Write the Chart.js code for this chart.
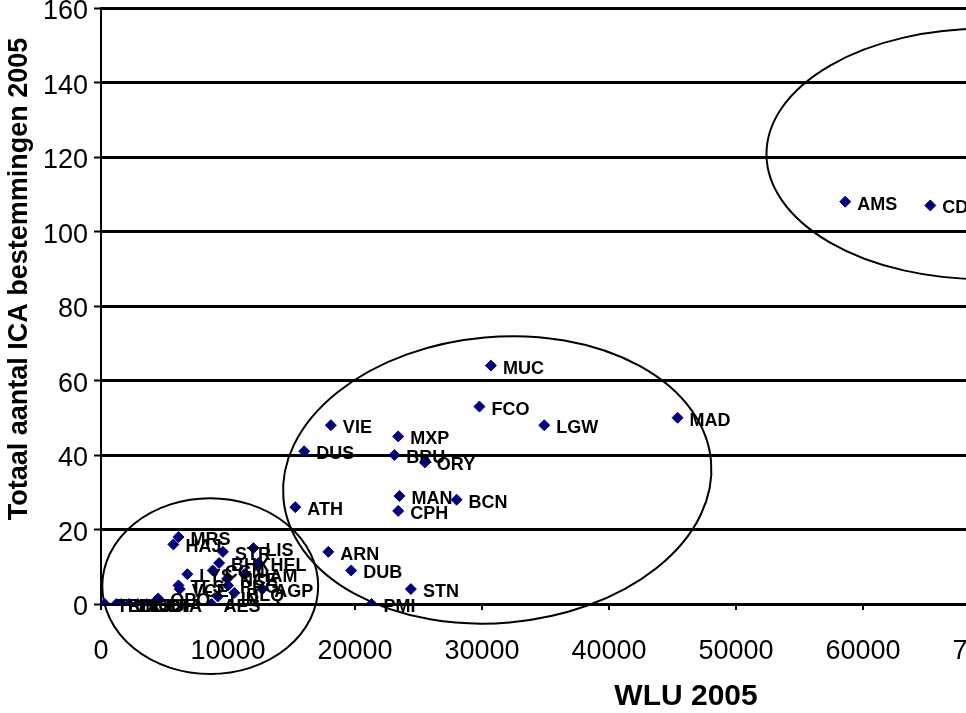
<!DOCTYPE html>
<html>
<head>
<meta charset="utf-8">
<script src="https://cdn.jsdelivr.net/npm/chart.js@4/dist/chart.umd.min.js"></script>
<style>
html, body { margin: 0; padding: 0; background: #ffffff; overflow: hidden; }
#wrap { position: relative; width: 1040px; height: 713px; }
</style>
</head>
<body>
<div id="wrap"><canvas id="c"></canvas></div>
<script>
// ---- data ----
const airports = ['AMS','CDG','MAD','MUC','FCO','LGW','VIE','MXP','DUS','BRU','ORY','MAN','BCN','CPH','ATH','ARN','DUB','STN','PMI',
  'MRS','HAJ','STR','LIS','BHX','HEL','LYS','CGN','NCE','HAM','TLS','VCE','PRG','BLQ','AGP','LIN','OPO','AES',
  'TLL','RIX','VNO','BOD','LJU','SOF','CTA'];
const wlu2005 = [58600, 65300, 45400, 30700, 29800, 34900, 18100, 23400, 16000, 23100, 25500, 23500, 28000, 23400, 15300, 17900, 19700, 24400, 21300,
  6100, 5700, 9600, 12000, 9300, 12400, 6800, 8800, 10000, 11300, 6100, 6200, 10000, 10500, 12700, 9200, 4500, 8700,
  300, 1200, 1600, 2200, 2900, 3600, 4200];
const icaDestinations = [108, 107, 50, 64, 53, 48, 48, 45, 41, 40, 38, 29, 28, 25, 26, 14, 9, 4, 0,
  18, 16, 14, 15, 11, 11, 8, 9, 7, 8, 5, 4, 5, 3, 4, 2, 1.5, 0,
  0, 0, 0, 0, 0, 0, 0];
const xTicks = [0, 10000, 20000, 30000, 40000, 50000, 60000, 70000];
const yTicks = [0, 20, 40, 60, 80, 100, 120, 140, 160];
const xTitle = 'WLU 2005';
const yTitle = 'Totaal aantal ICA bestemmingen 2005';
// hand-drawn groupings, in data units
const groupCenterX = [8600, 31200, 69500];
const groupCenterY = [4.8, 33.3, 120.8];
const groupRadiusX = [8500, 16900, 17100];
const groupRadiusY = [23.6, 38.4, 33.6];
const groupTiltDeg = [0, -5, 0];

const FONT = '"Liberation Sans", Arial, Helvetica, sans-serif';
Chart.defaults.font.family = FONT;

const points = wlu2005.map((v, i) => ({ x: v, y: icaDestinations[i] }));

const ellipsePlugin = {
  id: 'groups',
  beforeDatasetsDraw(chart) {
    const { ctx, scales: { x, y } } = chart;
    ctx.save();
    ctx.strokeStyle = '#000';
    ctx.lineWidth = 2;
    for (let i = 0; i < groupCenterX.length; i++) {
      const cx = x.getPixelForValue(groupCenterX[i]);
      const cy = y.getPixelForValue(groupCenterY[i]);
      const rx = Math.abs(x.getPixelForValue(groupCenterX[i] + groupRadiusX[i]) - cx);
      const ry = Math.abs(y.getPixelForValue(groupCenterY[i] + groupRadiusY[i]) - cy);
      ctx.beginPath();
      ctx.ellipse(cx, cy, rx, ry, groupTiltDeg[i] * Math.PI / 180, 0, Math.PI * 2);
      ctx.stroke();
    }
    ctx.restore();
  }
};

const labelPlugin = {
  id: 'pointLabels',
  afterDatasetsDraw(chart) {
    const { ctx } = chart;
    const meta = chart.getDatasetMeta(0);
    ctx.save();
    ctx.font = 'bold 18px ' + FONT;
    ctx.fillStyle = '#000';
    ctx.textAlign = 'left';
    ctx.textBaseline = 'alphabetic';
    meta.data.forEach((el, i) => {
      ctx.fillText(airports[i], el.x + 12, el.y + 8);
    });
    ctx.restore();
  }
};

const titlePlugin = {
  id: 'axisTitles',
  afterDraw(chart) {
    const { ctx } = chart;
    ctx.save();
    ctx.fillStyle = '#000';
    ctx.textAlign = 'center';
    ctx.textBaseline = 'alphabetic';
    ctx.font = 'bold 30px ' + FONT;
    ctx.fillText(xTitle, 686, 705);
    ctx.translate(27, 279);
    ctx.rotate(-Math.PI / 2);
    ctx.font = 'bold 27px ' + FONT;
    ctx.fillText(yTitle, 0, 0);
    ctx.restore();
  }
};

new Chart(document.getElementById('c'), {
  type: 'scatter',
  data: {
    datasets: [{
      data: points,
      pointStyle: 'rectRot',
      pointRadius: 5.5,
      pointBackgroundColor: '#000080',
      pointBorderColor: '#000080',
      pointBorderWidth: 1
    }]
  },
  options: {
    responsive: true,
    maintainAspectRatio: false,
    animation: false,
    layout: { padding: { left: 0, top: 8, right: 50, bottom: 0 } },
    plugins: { legend: { display: false }, tooltip: { enabled: false } },
    scales: {
      x: {
        type: 'linear', position: 'bottom', min: 0, max: 70000,
        afterBuildTicks: s => { s.ticks = xTicks.map(v => ({ value: v })); },
        ticks: { font: { size: 27 }, color: '#000', padding: 25, maxRotation: 0, autoSkip: false, callback: v => String(v) },
        grid: { drawOnChartArea: false, drawTicks: true, tickLength: 6, color: '#000', lineWidth: 2 },
        border: { display: true, color: '#000', width: 3 },
        afterFit: s => { s.height = 109; s.paddingLeft = 0; s.paddingRight = 0; }
      },
      y: {
        type: 'linear', min: 0, max: 160,
        afterBuildTicks: s => { s.ticks = yTicks.map(v => ({ value: v })); },
        ticks: { font: { size: 27 }, color: '#000', padding: 6, labelOffset: 4, callback: v => String(v) },
        grid: { color: '#000', lineWidth: 3, drawTicks: true, tickLength: 7, tickWidth: 2, tickColor: '#000' },
        border: { display: true, color: '#000', width: 2 },
        afterFit: s => { s.width = 101; s.paddingTop = 0; s.paddingBottom = 0; }
      }
    }
  },
  plugins: [ellipsePlugin, labelPlugin, titlePlugin]
});
</script>
</body>
</html>
